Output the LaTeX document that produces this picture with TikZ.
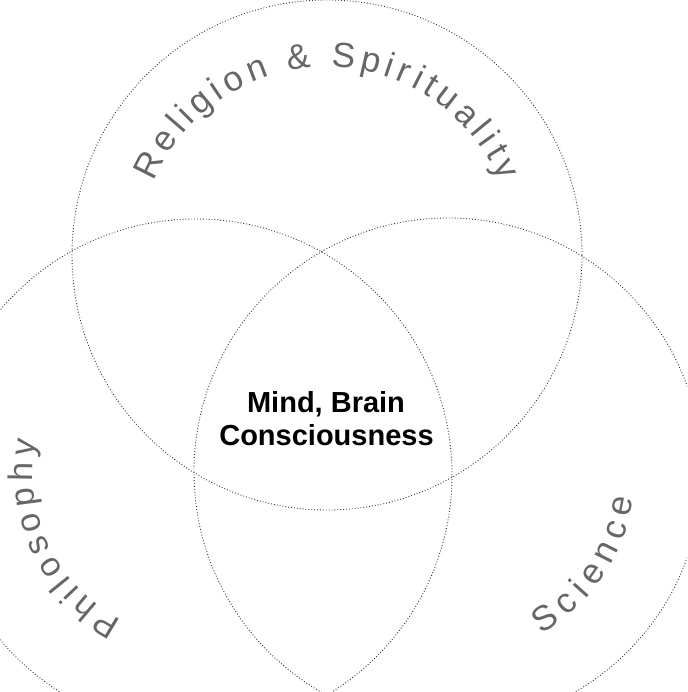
\documentclass[tikz,border=0pt]{standalone}
\usepackage{fontspec}
\setmainfont{Liberation Sans}
\usetikzlibrary{decorations.text}
\newcommand\relfont{\fontsize{35}{37}\selectfont}
\newcommand\phifont{\fontsize{34}{36}\selectfont}
\begin{document}
\begin{tikzpicture}[x=1pt,y=1pt,
  venn/.style={circle, draw=black!80, dotted, line width=0.9pt, inner sep=0pt, outer sep=0pt},
  arclabel/.style={decorate, decoration={text along path, text align={fit to path}, text color=black!60}},
  mainlabel/.style={font=\bfseries\fontsize{29}{33}\selectfont, inner sep=0pt, anchor=base}]
\useasboundingbox (0,-692) rectangle (687,0);
\clip (0,-692) rectangle (687,0);
\node[venn, minimum size=510pt] (rel) at (327,-255) {};
\node[venn, minimum size=512pt] (phil) at (196,-475) {};
\node[venn, minimum size=508pt] (sci) at (448,-472) {};
\path[arclabel, decoration={text={|\relfont|Religion {\&} Spirituality}}]
  (rel.center) ++(157:188) arc[start angle=157, end angle=23, radius=188];
\path[arclabel, decoration={text={|\phifont|Philosophy}}]
  (phil.center) ++(243:163) arc[start angle=243, end angle=168, radius=163];
\path[arclabel, decoration={text={|\relfont|Science}}]
  (sci.center) ++(-60:187) arc[start angle=-60, end angle=-8, radius=187];
\node[mainlabel] (mind) at (326,-412) {Mind, Brain};
\node[mainlabel] (consc) at (326.5,-445) {Consciousness};
\end{tikzpicture}
\end{document}
